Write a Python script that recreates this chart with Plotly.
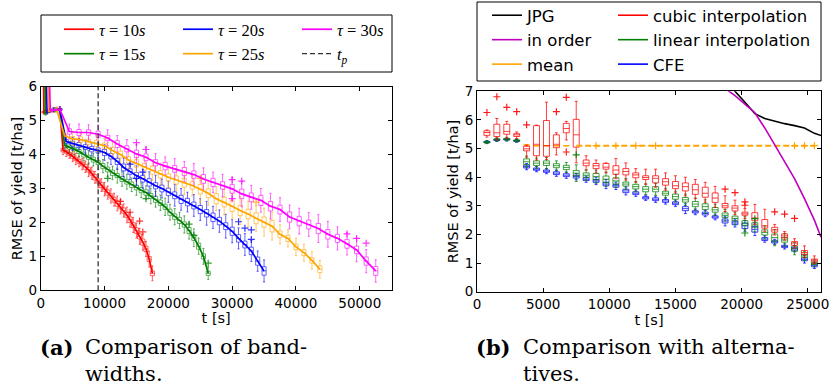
import plotly.graph_objects as go

W, H = 830, 392

# ---------------- data: panel (a) ----------------
tau10_t = list(range(0, 17501, 500))
tau10_med = [15.0, 5.25, 5.28, 5.30, 5.31, 5.32, 5.33, 4.13, 4.08, 4.02, 3.95, 3.87, 3.80, 3.72, 3.64, 3.55, 3.45, 3.33,
             3.22, 3.10, 2.98, 2.88, 2.78, 2.67, 2.56, 2.46, 2.35, 2.22, 2.08, 1.92, 1.76, 1.59, 1.42, 1.22, 0.92, 0.50]
tau10_iqr = [0.5, 0.04, 0.04, 0.04, 0.04, 0.04, 0.05, 0.10, 0.08, 0.10, 0.12, 0.10, 0.12, 0.10, 0.14, 0.12, 0.12, 0.15,
             0.12, 0.14, 0.12, 0.15, 0.12, 0.14, 0.16, 0.12, 0.15, 0.14, 0.16, 0.14, 0.16, 0.15, 0.18, 0.16, 0.15, 0.14]
tau10_wsk = [0.3, 0.04, 0.04, 0.04, 0.04, 0.04, 0.05, 0.08, 0.10, 0.08, 0.10, 0.12, 0.10, 0.12, 0.10, 0.14, 0.12, 0.10,
             0.14, 0.12, 0.14, 0.12, 0.15, 0.12, 0.14, 0.15, 0.12, 0.16, 0.14, 0.15, 0.14, 0.16, 0.15, 0.14, 0.16, 0.15]
tau10_out_t = [12500, 14000, 15500, 16000]
tau10_out_v = [2.62, 2.30, 2.04, 1.72]

tau15_t = list(range(0, 26251, 750))
tau15_med = [15.0, 5.22, 5.30, 5.32, 5.33, 4.27, 4.22, 4.16, 4.09, 4.00, 3.92, 3.85, 3.77, 3.66, 3.56, 3.46, 3.38, 3.28,
             3.20, 3.11, 3.03, 2.95, 2.88, 2.78, 2.68, 2.58, 2.46, 2.30, 2.17, 2.06, 1.94, 1.76, 1.55, 1.30, 1.00, 0.50]
tau15_iqr = [0.5, 0.04, 0.04, 0.04, 0.05, 0.10, 0.12, 0.10, 0.12, 0.14, 0.12, 0.14, 0.12, 0.15, 0.14, 0.16, 0.12, 0.15,
             0.14, 0.16, 0.14, 0.15, 0.16, 0.14, 0.18, 0.16, 0.15, 0.18, 0.16, 0.18, 0.15, 0.18, 0.16, 0.18, 0.15, 0.12]
tau15_wsk = [0.3, 0.04, 0.04, 0.04, 0.05, 0.10, 0.10, 0.12, 0.10, 0.12, 0.14, 0.12, 0.15, 0.12, 0.14, 0.12, 0.16, 0.14,
             0.15, 0.12, 0.16, 0.14, 0.12, 0.16, 0.14, 0.15, 0.18, 0.14, 0.16, 0.15, 0.18, 0.16, 0.18, 0.15, 0.16, 0.12]
tau15_out_t = [10500, 16500, 23250, 24000, 26250]
tau15_out_v = [3.30, 2.70, 1.95, 1.62, 0.80]

tau20_t = list(range(0, 35001, 1000))
tau20_med = [15.0, 5.25, 5.32, 5.33, 4.38, 4.32, 4.28, 4.22, 4.16, 4.12, 4.06, 3.95, 3.80, 3.62, 3.50, 3.38, 3.29, 3.18,
             3.08, 3.00, 2.90, 2.80, 2.68, 2.60, 2.50, 2.38, 2.27, 2.15, 2.04, 1.89, 1.74, 1.53, 1.35, 1.16, 0.86, 0.57]
tau20_iqr = [0.5, 0.04, 0.04, 0.05, 0.12, 0.14, 0.15, 0.14, 0.16, 0.15, 0.18, 0.16, 0.18, 0.20, 0.16, 0.18, 0.20, 0.22,
             0.18, 0.20, 0.22, 0.20, 0.24, 0.22, 0.20, 0.24, 0.22, 0.25, 0.22, 0.20, 0.24, 0.22, 0.20, 0.22, 0.24, 0.25]
tau20_wsk = [0.3, 0.04, 0.04, 0.05, 0.10, 0.12, 0.12, 0.14, 0.12, 0.15, 0.14, 0.16, 0.15, 0.18, 0.16, 0.20, 0.18, 0.20,
             0.22, 0.18, 0.20, 0.22, 0.20, 0.18, 0.22, 0.20, 0.24, 0.20, 0.22, 0.25, 0.22, 0.20, 0.22, 0.20, 0.18, 0.20]
tau20_out_t = [14000, 15000, 16000, 31000, 32000, 33000, 33000]
tau20_out_v = [3.72, 3.30, 3.48, 2.02, 1.83, 1.78, 1.50]

tau25_t = list(range(0, 43751, 1250))
tau25_med = [15.0, 5.28, 5.33, 4.55, 4.46, 4.44, 4.38, 4.33, 4.26, 4.12, 4.00, 3.84, 3.74, 3.64, 3.54, 3.42, 3.33, 3.25,
             3.17, 3.09, 2.98, 2.86, 2.70, 2.60, 2.48, 2.35, 2.25, 2.12, 2.01, 1.89, 1.65, 1.53, 1.28, 1.11, 0.88, 0.62]
tau25_iqr = [0.5, 0.04, 0.05, 0.12, 0.14, 0.16, 0.15, 0.18, 0.16, 0.18, 0.20, 0.18, 0.22, 0.20, 0.24, 0.22, 0.20, 0.24,
             0.26, 0.22, 0.28, 0.26, 0.30, 0.28, 0.32, 0.30, 0.28, 0.32, 0.30, 0.34, 0.20, 0.18, 0.16, 0.18, 0.16, 0.20]
tau25_wsk = [0.3, 0.04, 0.05, 0.10, 0.12, 0.14, 0.12, 0.15, 0.14, 0.16, 0.15, 0.18, 0.16, 0.20, 0.18, 0.20, 0.22, 0.18,
             0.22, 0.20, 0.24, 0.22, 0.20, 0.24, 0.22, 0.26, 0.24, 0.22, 0.26, 0.24, 0.18, 0.16, 0.18, 0.16, 0.18, 0.16]
tau25_out_t = [25000, 33750]
tau25_out_v = [3.30, 2.60]

tau30_t = list(range(0, 52501, 1500))
tau30_med = [16.0, 5.30, 5.33, 4.68, 4.65, 4.65, 4.60, 4.49, 4.31, 4.17, 4.02, 3.92, 3.76, 3.66, 3.58, 3.50, 3.41, 3.28,
             3.18, 3.09, 2.99, 2.84, 2.74, 2.65, 2.48, 2.38, 2.16, 2.04, 1.94, 1.82, 1.65, 1.53, 1.37, 1.19, 0.86, 0.57]
tau30_iqr = [0.5, 0.04, 0.05, 0.16, 0.18, 0.16, 0.18, 0.16, 0.20, 0.18, 0.22, 0.20, 0.18, 0.22, 0.20, 0.24, 0.22, 0.26,
             0.24, 0.22, 0.26, 0.28, 0.26, 0.30, 0.28, 0.26, 0.30, 0.28, 0.26, 0.30, 0.28, 0.24, 0.26, 0.22, 0.24, 0.26]
tau30_wsk = [0.3, 0.04, 0.05, 0.14, 0.16, 0.15, 0.18, 0.16, 0.15, 0.18, 0.16, 0.20, 0.18, 0.16, 0.20, 0.18, 0.22, 0.20,
             0.18, 0.22, 0.20, 0.24, 0.22, 0.20, 0.24, 0.22, 0.20, 0.24, 0.22, 0.26, 0.24, 0.22, 0.20, 0.24, 0.22, 0.20]
tau30_out_t = [15000, 16500, 30000, 31500, 30000, 48000, 49500, 51000]
tau30_out_v = [4.35, 4.15, 3.26, 3.22, 2.70, 1.66, 1.53, 1.39]

t_p = 9000

# ---------------- data: panel (b) ----------------
alt_t = list(range(750, 25501, 750))
cubic_med = [5.56, 5.55, 5.60, 5.48, 4.99, 5.15, 5.10, 5.15, 5.70, 5.48, 4.49, 4.40, 4.35, 4.25, 4.20, 4.08, 3.99,
             3.96, 3.84, 3.70, 3.67, 3.56, 3.44, 3.27, 3.00, 2.92, 2.72, 2.57, 2.30, 2.16, 1.95, 1.70, 1.37, 1.10]
cubic_q1 = [5.46, 5.42, 5.50, 5.42, 4.92, 4.75, 4.73, 5.03, 5.55, 5.05, 4.40, 4.30, 4.28, 4.10, 4.08, 3.98, 3.92,
            3.80, 3.72, 3.60, 3.52, 3.40, 3.30, 3.12, 2.93, 2.82, 2.67, 2.48, 2.22, 2.08, 1.88, 1.62, 1.30, 1.04]
cubic_q3 = [5.62, 5.85, 5.85, 5.52, 5.08, 5.80, 5.98, 5.48, 5.88, 6.02, 4.60, 4.48, 4.48, 4.40, 4.30, 4.15, 4.05,
            4.05, 3.95, 3.85, 3.80, 3.75, 3.65, 3.45, 3.08, 3.00, 2.78, 2.76, 2.52, 2.25, 2.02, 1.75, 1.44, 1.14]
cubic_lo = [5.40, 5.30, 5.35, 5.35, 4.70, 4.60, 4.62, 4.78, 5.30, 4.50, 4.25, 4.15, 4.15, 3.95, 3.90, 3.82, 3.75,
            3.65, 3.55, 3.45, 3.35, 3.25, 3.12, 2.95, 2.80, 2.70, 2.55, 2.35, 2.10, 1.98, 1.80, 1.52, 1.20, 0.98]
cubic_hi = [5.65, 6.05, 5.95, 5.58, 5.12, 5.82, 6.62, 5.55, 5.95, 6.65, 4.75, 4.60, 4.50, 4.65, 4.50, 4.30, 4.28,
            4.28, 4.15, 4.05, 4.00, 3.92, 3.82, 3.68, 3.35, 3.20, 2.90, 3.05, 2.88, 2.35, 2.10, 1.85, 1.60, 1.25]
cubic_out_t = [750, 1500, 2250, 3000, 3750, 6000, 6750, 6750, 18750, 19500, 20250, 20250, 22500, 23250, 24000]
cubic_out_v = [6.26, 6.81, 6.44, 6.29, 5.83, 6.29, 6.79, 4.88, 3.58, 3.46, 3.14, 3.02, 2.79, 2.71, 2.56]

linear_med = [5.22, 5.32, 5.33, 5.28, 4.54, 4.49, 4.49, 4.40, 4.34, 4.14, 4.07, 4.02, 3.93, 3.87, 3.76, 3.67, 3.58,
              3.58, 3.44, 3.32, 3.21, 3.06, 2.97, 2.86, 2.67, 2.56, 2.40, 2.33, 2.07, 1.89, 1.81, 1.50, 1.25, 0.99]
linear_iqr = [0.04, 0.04, 0.05, 0.04, 0.20, 0.16, 0.16, 0.14, 0.15, 0.18, 0.16, 0.22, 0.22, 0.22, 0.14, 0.16, 0.18,
              0.18, 0.14, 0.18, 0.16, 0.18, 0.20, 0.16, 0.16, 0.16, 0.16, 0.16, 0.18, 0.25, 0.16, 0.18, 0.12, 0.08]
linear_wsk = [0.03, 0.04, 0.04, 0.03, 0.10, 0.10, 0.12, 0.10, 0.10, 0.20, 0.10, 0.12, 0.14, 0.12, 0.12, 0.10, 0.10,
              0.12, 0.10, 0.10, 0.12, 0.12, 0.14, 0.12, 0.12, 0.14, 0.14, 0.16, 0.14, 0.16, 0.14, 0.12, 0.10, 0.08]
linear_out_t = [7500, 20250, 21000]
linear_out_v = [4.78, 2.05, 2.55]

cfe_med = [5.23, 5.30, 5.32, 5.27, 4.37, 4.28, 4.21, 4.14, 4.07, 4.02, 3.93, 3.87, 3.76, 3.70, 3.52, 3.44, 3.28,
           3.23, 3.17, 3.09, 2.90, 2.79, 2.73, 2.61, 2.47, 2.40, 2.30, 2.18, 1.84, 1.74, 1.58, 1.50, 1.13, 0.92]
cfe_iqr = [0.04, 0.04, 0.04, 0.04, 0.10, 0.08, 0.08, 0.10, 0.10, 0.10, 0.10, 0.10, 0.12, 0.10, 0.12, 0.10, 0.08,
           0.10, 0.10, 0.10, 0.14, 0.08, 0.10, 0.08, 0.14, 0.12, 0.18, 0.20, 0.10, 0.08, 0.08, 0.10, 0.10, 0.10]
cfe_wsk = [0.03, 0.03, 0.03, 0.03, 0.06, 0.05, 0.05, 0.06, 0.06, 0.06, 0.06, 0.08, 0.10, 0.08, 0.08, 0.06, 0.05,
           0.06, 0.06, 0.06, 0.10, 0.06, 0.06, 0.06, 0.10, 0.08, 0.10, 0.12, 0.06, 0.05, 0.05, 0.06, 0.08, 0.06]

mean_t = list(range(3750, 25501, 750))
mean_v = [5.12, 5.10, 5.10, 5.10, 5.10, 5.10, 5.10, 5.10, 5.10, 5.10, 5.10, 5.10, 5.10, 5.10, 5.10,
          5.10, 5.10, 5.10, 5.10, 5.10, 5.10, 5.10, 5.10, 5.10, 5.10, 5.10, 5.10, 5.10, 5.10, 5.10]
mean_line_from = 7500
mean_out_t = [9000, 10500, 12000, 13500, 24000, 24750, 25500]
mean_out_v = [5.10, 5.10, 5.10, 5.10, 5.10, 5.10, 5.10]

jpg_t = [18750, 19500, 20250, 21000, 21750, 22500, 23250, 24000, 24750, 25500, 26250]
jpg_v = [7.60, 7.00, 6.62, 6.22, 6.05, 5.95, 5.87, 5.80, 5.72, 5.53, 5.42]

inorder_t = [18000, 18750, 19500, 20250, 21000, 21750, 22500, 23250, 24000, 24750, 25500, 26000]
inorder_v = [7.40, 7.10, 6.85, 6.55, 6.25, 5.72, 5.12, 4.52, 3.95, 3.25, 2.50, 1.90]

# ---------------- styling ----------------
RED, GREEN, BLUE, ORANGE, MAG, PURP = "#ff0000", "#008000", "#0000ff", "#ffa500", "#ff00ff", "#bf00bf"


def rgba(hexc, a):
    h = hexc.lstrip("#")
    return "rgba(%d,%d,%d,%.2f)" % (int(h[0:2], 16), int(h[2:4], 16), int(h[4:6], 16), a)


fig = go.Figure()


def add_boxes(t, q1, med, q3, lo, hi, color, width, xa, ya, alpha=0.65):
    fig.add_trace(go.Box(x=t, q1=q1, median=med, q3=q3, lowerfence=lo, upperfence=hi,
                         width=width, whiskerwidth=0.5, boxpoints=False,
                         line=dict(color=rgba(color, alpha), width=1),
                         fillcolor="rgba(0,0,0,0)", showlegend=False,
                         xaxis=xa, yaxis=ya, hoverinfo="skip"))


def add_out(t, v, color, xa, ya, alpha=0.9):
    fig.add_trace(go.Scatter(x=t, y=v, mode="markers", showlegend=False,
                             marker=dict(symbol="cross-thin", size=5,
                                         line=dict(width=1.2, color=rgba(color, alpha))),
                             xaxis=xa, yaxis=ya, hoverinfo="skip"))


def sym(med, spread):
    return [m - s / 2 for m, s in zip(med, spread)], [m + s / 2 for m, s in zip(med, spread)]


left_series = [
    ("<i>τ</i> = 10<i>s</i>", tau10_t, tau10_med, tau10_iqr, tau10_wsk, tau10_out_t, tau10_out_v, RED, "legend"),
    ("<i>τ</i> = 15<i>s</i>", tau15_t, tau15_med, tau15_iqr, tau15_wsk, tau15_out_t, tau15_out_v, GREEN, "legend"),
    ("<i>τ</i> = 20<i>s</i>", tau20_t, tau20_med, tau20_iqr, tau20_wsk, tau20_out_t, tau20_out_v, BLUE, "legend2"),
    ("<i>τ</i> = 25<i>s</i>", tau25_t, tau25_med, tau25_iqr, tau25_wsk, tau25_out_t, tau25_out_v, ORANGE, "legend2"),
    ("<i>τ</i> = 30<i>s</i>", tau30_t, tau30_med, tau30_iqr, tau30_wsk, tau30_out_t, tau30_out_v, MAG, "legend3"),
]

for name, t, med, iqr, wsk, ot, ov, col, lg in left_series:
    q1, q3 = sym(med, iqr)
    lo = [a - w for a, w in zip(q1, wsk)]
    hi = [b + w for b, w in zip(q3, wsk)]
    add_boxes(t, q1, med, q3, lo, hi, col, 650, "x", "y", alpha=0.6)
    add_out(ot, ov, col, "x", "y", alpha=0.8)
for name, t, med, iqr, wsk, ot, ov, col, lg in left_series:
    fig.add_trace(go.Scatter(x=t, y=med, mode="lines", name=name, legend=lg,
                             line=dict(color=col, width=1.7), xaxis="x", yaxis="y"))

fig.add_trace(go.Scatter(x=[t_p, t_p], y=[0, 6], mode="lines", name="<i>t</i><sub><i>p</i></sub>",
                         legend="legend3", line=dict(color="#333333", width=1.3, dash="5px,3px"),
                         xaxis="x", yaxis="y"))

# panel (b)
early = [i for i, t in enumerate(mean_t) if t < mean_line_from]
late = [i for i, t in enumerate(mean_t) if t >= mean_line_from]
early_t = [mean_t[i] for i in early]
early_v = [mean_v[i] for i in early]
add_boxes(early_t, early_v, early_v, early_v, early_v, early_v, ORANGE, 450, "x2", "y2", alpha=0.9)
fig.add_trace(go.Scatter(x=[mean_t[i] for i in late], y=[mean_v[i] for i in late],
                         mode="lines", showlegend=False, line=dict(color=ORANGE, width=2, dash="6px,3px"),
                         xaxis="x2", yaxis="y2"))
add_out(mean_out_t, mean_out_v, ORANGE, "x2", "y2", alpha=1)

q1, q3 = sym(cfe_med, cfe_iqr)
add_boxes(alt_t, q1, cfe_med, q3, [a - w for a, w in zip(q1, cfe_wsk)], [b + w for b, w in zip(q3, cfe_wsk)],
          BLUE, 450, "x2", "y2", alpha=0.75)
q1, q3 = sym(linear_med, linear_iqr)
add_boxes(alt_t, q1, linear_med, q3, [a - w for a, w in zip(q1, linear_wsk)],
          [b + w for b, w in zip(q3, linear_wsk)], GREEN, 450, "x2", "y2", alpha=0.75)
add_out(linear_out_t, linear_out_v, GREEN, "x2", "y2")
add_boxes(alt_t, cubic_q1, cubic_med, cubic_q3, cubic_lo, cubic_hi, RED, 450, "x2", "y2", alpha=0.75)
add_out(cubic_out_t, cubic_out_v, RED, "x2", "y2")

fig.add_trace(go.Scatter(x=jpg_t, y=jpg_v, mode="lines", name="JPG", legend="legend4",
                         line=dict(color="black", width=1.6), xaxis="x2", yaxis="y2"))
fig.add_trace(go.Scatter(x=inorder_t, y=inorder_v, mode="lines", name="in order", legend="legend4",
                         line=dict(color=PURP, width=1.6), xaxis="x2", yaxis="y2"))
for name, col, lg in [("mean", ORANGE, "legend4"), ("cubic interpolation", RED, "legend5"),
                      ("linear interpolation", GREEN, "legend5"), ("CFE", BLUE, "legend5")]:
    fig.add_trace(go.Scatter(x=[None], y=[None], mode="lines", name=name, legend=lg,
                             line=dict(color=col, width=1.6), xaxis="x2", yaxis="y2"))

# ---------------- layout ----------------
tickfont = dict(family="DejaVu Sans", size=13.5, color="black")
titlefont = dict(family="DejaVu Sans", size=14.5, color="black")
axis_common = dict(showline=True, linecolor="black", linewidth=1, mirror="ticks", ticks="inside",
                   ticklen=4, tickcolor="black", showgrid=False, zeroline=False, tickfont=tickfont,
                   tickformat="d")

fig.update_layout(
    width=W, height=H, margin=dict(l=0, r=0, t=0, b=0, autoexpand=False),
    paper_bgcolor="white", plot_bgcolor="white", boxmode="overlay",
    xaxis=dict(domain=[40.7 / W, 391.7 / W], range=[0, 55000], tickvals=[0, 10000, 20000, 30000, 40000, 50000],
               title=dict(text="t [s]", font=titlefont, standoff=2), anchor="y", **axis_common),
    yaxis=dict(domain=[1 - 290.3 / H, 1 - 86.7 / H], range=[0, 6], tickvals=[0, 1, 2, 3, 4, 5, 6],
               title=dict(text="RMSE of yield [t/ha]", font=titlefont, standoff=2), anchor="x", **axis_common),
    xaxis2=dict(domain=[477 / W, 821 / W], range=[0, 26000], tickvals=[0, 5000, 10000, 15000, 20000, 25000],
                title=dict(text="t [s]", font=titlefont, standoff=2), anchor="y2", **axis_common),
    yaxis2=dict(domain=[1 - 291.7 / H, 1 - 91.3 / H], range=[0, 7], tickvals=[0, 1, 2, 3, 4, 5, 6, 7],
                title=dict(text="RMSE of yield [t/ha]", font=titlefont, standoff=2), anchor="x2", **axis_common),
)

serif_leg = dict(family="Liberation Serif", size=16.5, color="black")
sans_leg = dict(family="DejaVu Sans", size=16.5, color="black")
leg_common = dict(xanchor="left", yanchor="top", bgcolor="rgba(0,0,0,0)", borderwidth=0,
                  itemwidth=30, orientation="v", tracegroupgap=0)
fig.update_layout(
    legend=dict(x=59 / W, y=1 - 12 / H, font=serif_leg, **leg_common),
    legend2=dict(x=178 / W, y=1 - 12 / H, font=serif_leg, **leg_common),
    legend3=dict(x=297 / W, y=1 - 12 / H, font=serif_leg, **leg_common),
    legend4=dict(x=487 / W, y=1 + 2 / H, font=sans_leg, **leg_common),
    legend5=dict(x=613 / W, y=1 + 2 / H, font=sans_leg, **leg_common),
)

# legend frames
for x0, x1, y0, y1 in [(41, 392, 15, 72), (477, 821, 2, 81)]:
    fig.add_shape(type="rect", xref="paper", yref="paper", x0=x0 / W, x1=x1 / W, y0=1 - y1 / H, y1=1 - y0 / H,
                  line=dict(color="black", width=1), fillcolor="rgba(0,0,0,0)")

# captions
cap_font = dict(family="DejaVu Serif", size=21, color="black")
for x_lab, x_txt, lab, l1, l2 in [(38, 83, "(a)", "Comparison of band-", "widths."),
                                  (474, 521, "(b)", "Comparison with alterna-", "tives.")]:
    fig.add_annotation(x=x_lab / W, y=1 - 347 / H, xref="paper", yref="paper", xanchor="left", yanchor="middle",
                       text="<b>%s</b>" % lab, showarrow=False, font=cap_font)
    fig.add_annotation(x=x_txt / W, y=1 - 347 / H, xref="paper", yref="paper", xanchor="left", yanchor="middle",
                       text=l1, showarrow=False, font=cap_font)
    fig.add_annotation(x=x_txt / W, y=1 - 374 / H, xref="paper", yref="paper", xanchor="left", yanchor="middle",
                       text=l2, showarrow=False, font=cap_font)

fig.write_html("out.html")
